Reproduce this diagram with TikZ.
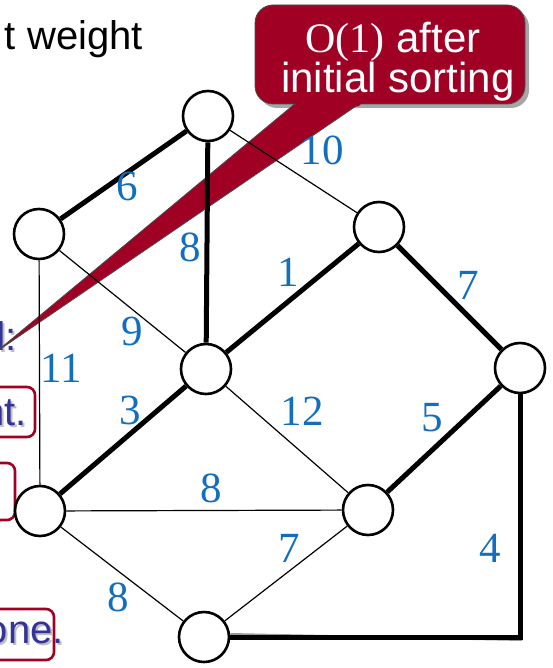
\documentclass[tikz,border=0pt]{standalone}
\usepackage{fontspec}
\setmainfont{Liberation Sans}
\newfontfamily\tms{Liberation Serif}
\definecolor{lblue}{RGB}{20,110,190}
\definecolor{cred}{RGB}{160,0,35}
\definecolor{pblue}{RGB}{51,51,153}
\pgfdeclarelayer{back}
\pgfdeclarelayer{bg}
\pgfsetlayers{back,bg,main}
\begin{document}
\begin{tikzpicture}[x=1pt,y=-1pt,
  vtx/.style={circle, draw, line width=2.6pt, fill=white, minimum size=50pt, inner sep=0},
  hv/.style={line width=5pt},
  ln/.style={line width=1.2pt},
  wlab/.style={text=lblue, font=\tms\fontsize{43}{43}\selectfont, inner sep=0},
  ctext/.style={text=white, font=\fontsize{42}{42}\selectfont, inner sep=0, anchor=base},
  ptext/.style={text=pblue, font=\fontsize{40}{40}\selectfont, inner sep=0, anchor=base east},
  pshadow/.style={text=black!25, font=\fontsize{40}{40}\selectfont, inner sep=0, anchor=base east},
  rbox/.style={draw=cred, line width=2.6pt, rounded corners=8pt}]
\useasboundingbox (0,0) rectangle (552,668);

% vertices
\node[vtx] (A) at (208,116) {};
\node[vtx] (B) at (39,234) {};
\node[vtx] (C) at (379,227) {};
\node[vtx] (D) at (520,368) {};
\node[vtx] (E) at (206,369) {};
\node[vtx] (F) at (40,511) {};
\node[vtx] (G) at (368,510) {};
\node[vtx] (H) at (204,637) {};

% left text fragments
\begin{pgfonlayer}{back}
  \node[text=black, font=\fontsize{40}{40}\selectfont, inner sep=0, anchor=base east] (tw) at (143,50) {t weight};
  \node[pshadow] (d1s) at (19,352) {d:};
  \node[ptext] (d1) at (17,350) {d:};
  \draw[rbox] (-10,387) rectangle (35,437);
  \node[pshadow] (nts) at (29,427) {nt.};
  \node[ptext] (nt) at (27,425) {nt.};
  \draw[rbox] (-10,463) rectangle (15,520);
  \draw[rbox] (-10,609) rectangle (54,660);
  \node[pshadow] (ones) at (66,645) {one.};
  \node[ptext] (one) at (64,643) {one.};

  % callout shadow
  \fill[black!35] (259,9) [rounded corners=18pt] -- (529,9) -- (529,108) -- (259,108) -- cycle;
  % callout tail
  \filldraw[fill=cred, draw=black!70, line width=0.8pt] (297,102) -- (-4,352) -- (362,102) -- cycle;
  % callout box
  \filldraw[fill=cred, draw=black!70, line width=0.8pt, rounded corners=18pt] (255,5) rectangle (525,104);
  \fill[cred] (299.5,100) -- (364.5,100) -- (358.5,106.5) -- (294.5,106.5) -- cycle;
  \node[ctext] (c1) at (393,53) {{\tms O(1)} after};
  \node[ctext] (c2) at (398,93) {initial sorting};
\end{pgfonlayer}

% edges
\begin{pgfonlayer}{bg}
  \draw[hv] (A) -- (B);
  \draw[hv] (A) -- (E);
  \draw[ln] (A) -- (C);
  \draw[ln] (B) -- (E);
  \draw[ln] (B) -- (F);
  \draw[hv] (C) -- (E);
  \draw[hv] (C) -- (D);
  \draw[hv] (D) -- (G);
  \draw[black!40, line width=2pt] ([yshift=3pt]H.east) -- (522,640);
  \draw[hv] (H.east) -| (D.south);
  \draw[hv] (E) -- (F);
  \draw[ln] (E) -- (G);
  \draw[ln] (F) -- (G);
  \draw[ln] (F) -- (H);
  \draw[ln] (G) -- (H);
\end{pgfonlayer}

% weights
\node[wlab] (w10) at (322,150) {10};
\node[wlab] (w6) at (127,186) {6};
\node[wlab] (w8a) at (190,247) {8};
\node[wlab] (w1) at (288,272) {1};
\node[wlab] (w7a) at (468,285) {7};
\node[wlab] (w9) at (132,331) {9};
\node[wlab] (w11) at (61,368) {11};
\node[wlab] (w3) at (130,410) {3};
\node[wlab] (w12) at (302,411) {12};
\node[wlab] (w5) at (432,418) {5};
\node[wlab] (w8b) at (211,488) {8};
\node[wlab] (w7b) at (289,548) {7};
\node[wlab] (w4) at (490,548) {4};
\node[wlab] (w8c) at (118,597) {8};
\end{tikzpicture}
\end{document}
